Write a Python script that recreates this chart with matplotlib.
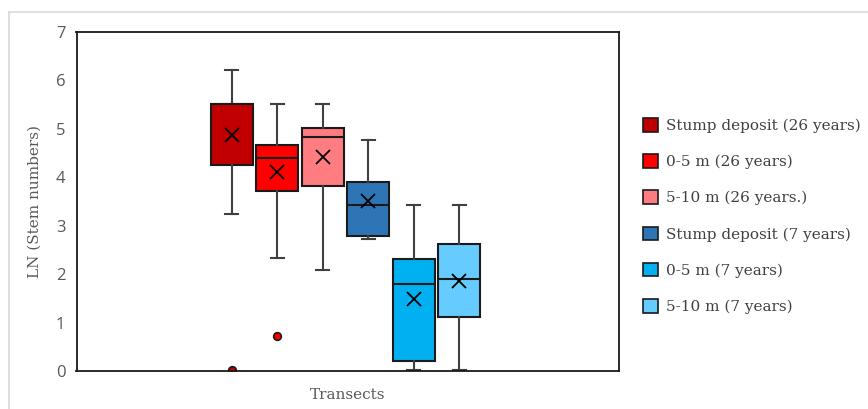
import matplotlib.pyplot as plt
from matplotlib.lines import Line2D
from matplotlib.patches import Patch

groups = ["Stump deposit (26 years)", "0-5 m (26 years)", "5-10 m (26 years.)",
          "Stump deposit (7 years)", "0-5 m (7 years)", "5-10 m (7 years)"]
colors = ["#c00000", "#ff0000", "#ff7c80", "#2e75b6", "#00b0f0", "#66ccff"]

whislo = [3.24, 2.33, 2.09, 2.72, 0.03, 0.03]
q1 = [4.26, 3.71, 3.82, 2.79, 0.21, 1.12]
med = [5.52, 4.40, 4.84, 3.42, 1.80, 1.91]
q3 = [5.52, 4.66, 5.02, 3.90, 2.32, 2.63]
whishi = [6.22, 5.52, 5.52, 4.78, 3.42, 3.42]
means = [4.88, 4.10, 4.42, 3.51, 1.49, 1.86]
fliers = [[0.03], [0.72], [], [], [], []]

fig = plt.figure(figsize=(8.68, 4.09), dpi=100)
ax = fig.add_axes([76.5 / 868, 1 - 371 / 409, 542.5 / 868, 339 / 409])

serif = "DejaVu Serif"
grey = "#595959"

for i in range(len(groups)):
    st = dict(whislo=whislo[i], q1=q1[i], med=med[i], q3=q3[i], whishi=whishi[i],
              mean=means[i], fliers=fliers[i])
    ax.bxp([st], positions=[i + 1], widths=0.917, patch_artist=True, showmeans=True,
           boxprops=dict(facecolor=colors[i], edgecolor="#1a1a1a", linewidth=1.5),
           medianprops=dict(color="#1a1a1a", linewidth=1.5),
           whiskerprops=dict(color="#404040", linewidth=1.5),
           capprops=dict(color="#404040", linewidth=1.5),
           capwidths=0.28,
           meanprops=dict(marker="x", markeredgecolor="black", markersize=10,
                          markeredgewidth=1.3),
           flierprops=dict(marker="o", markerfacecolor=colors[i], markeredgecolor="#1a1a1a",
                           markersize=5.5, markeredgewidth=1.2))

ax.set_xlim(-2.415, 9.51)
ax.set_ylim(0, 7)
ax.set_yticks(range(8))
ax.set_xticks([])
ax.tick_params(axis="y", length=0, pad=8, labelsize=12, labelcolor=grey)
for lbl in ax.get_yticklabels():
    lbl.set_fontfamily("Open Sans")
for sp in ax.spines.values():
    sp.set_color("#1a1a1a")
    sp.set_linewidth(1.3)

ax.set_ylabel("LN (Stem numbers)", fontfamily=serif, fontsize=11, color=grey, labelpad=10)
ax.set_xlabel("Transects", fontfamily=serif, fontsize=11, color=grey, labelpad=12)

handles = [Patch(facecolor=c, edgecolor="#1a1a1a", linewidth=1.2) for c in colors]
leg = fig.legend(handles, groups, loc="center left", bbox_to_anchor=(629 / 868, 1 - 216 / 409),
                 frameon=False, prop=dict(family=serif, size=11), labelcolor="#404040",
                 handlelength=1.0, handleheight=1.0, handletextpad=0.5, labelspacing=1.38)

# light outer frame
fig.add_artist(Line2D([9 / 868, 1], [1 - 12 / 409, 1 - 12 / 409], color="#d9d9d9", linewidth=1.2))
fig.add_artist(Line2D([9 / 868, 9 / 868], [0, 1 - 12 / 409], color="#d9d9d9", linewidth=1.2))

fig.savefig("out.png", dpi=100)
